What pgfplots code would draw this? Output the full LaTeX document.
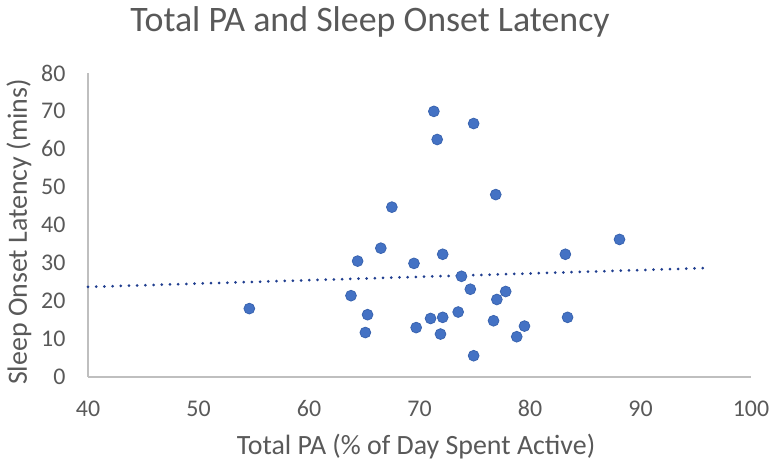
\documentclass[border=0pt]{standalone}
\usepackage{fontspec}
\setmainfont{Carlito}
\usepackage{pgfplots}
\pgfplotsset{compat=1.18}
\definecolor{txt}{HTML}{595959}
\definecolor{axgray}{HTML}{BFBFBF}
\definecolor{ptfill}{HTML}{4472C4}
\definecolor{ptedge}{HTML}{3A64B0}
\definecolor{trend}{HTML}{203E8F}
\begin{document}
\begin{tikzpicture}
\path (-88bp,-89bp) rectangle (692bp,377bp);
\begin{axis}[
  at={(0,0)}, anchor=south west,
  scale only axis, width=663bp, height=304bp,
  xmin=40, xmax=100, ymin=0, ymax=80,
  xtick={40,50,...,100}, ytick={0,10,...,80},
  axis x line*=bottom, axis y line*=left,
  axis line style={axgray, line width=1.2bp},
  major tick length=0pt,
  tick label style={font=\fontsize{24}{28}\selectfont, text=txt},
  /pgf/number format/assume math mode=true,
  xticklabel style={yshift=-20bp},
  yticklabel style={xshift=-19bp},
  clip=false,
]
\addplot[only marks, mark=*, mark size=5.4bp, mark options={fill=ptfill, draw=ptedge, line width=0.8bp}] coordinates {
(54.6,18.0) (67.5,44.7) (66.5,33.9) (64.4,30.5) (69.5,29.9) (63.8,21.4)
(65.3,16.4) (65.1,11.7) (69.7,13.0) (71.3,69.9) (74.9,66.7) (71.6,62.5)
(76.9,48.0) (88.1,36.2) (72.1,32.3) (83.2,32.3) (73.8,26.5) (74.6,23.1)
(77.8,22.5) (77.0,20.4) (73.5,17.1) (71.0,15.4) (72.1,15.7) (83.4,15.7)
(76.7,14.8) (79.5,13.4) (78.8,10.6) (71.9,11.3) (74.9,5.6)
};
\addplot[trend, line width=3bp, dash pattern=on 0pt off 8.2bp, line cap=round] coordinates {(40,23.7) (96.3,28.7)};
\end{axis}
\node[text=txt, font=\fontsize{36}{40}\selectfont] at (282bp,355bp) {Total PA and Sleep Onset Latency};
\node[text=txt, font=\fontsize{28}{32}\selectfont] at (328bp,-70bp) {Total PA (\% of Day Spent Active)};
\node[text=txt, font=\fontsize{28}{32}\selectfont, rotate=90] at (-69bp,145bp) {Sleep Onset Latency (mins)};
\end{tikzpicture}
\end{document}
